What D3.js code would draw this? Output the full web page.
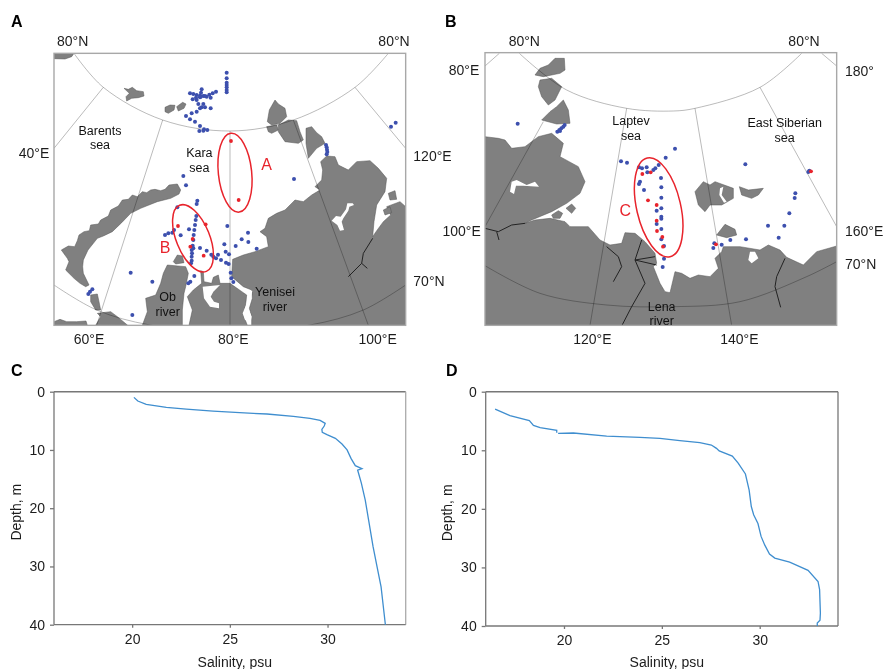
<!DOCTYPE html>
<html><head><meta charset="utf-8">
<script src="https://cdn.jsdelivr.net/npm/d3@7"></script>
<style>
html,body{margin:0;padding:0;background:#fff}
svg{display:block;filter:blur(0.4px)}
text{font-family:"Liberation Sans",Arial,sans-serif;fill:#1c1c1c}
</style></head><body>
<svg id="c" width="883" height="669"></svg>
<script>
// ---------- Salinity profiles ----------
const salinityC=[20.09,20.29,20.72,21.75,22.77,24.14,25.5,26.9,28.25,29.1,29.62,29.88,29.83,29.71,29.73,29.97,30.4,30.74,31.0,31.2,31.42,31.76,31.54,31.73,31.93,32.1,32.33,32.53,32.74,32.96];
const depthC=[0.97,1.6,2.17,2.69,2.98,3.32,3.6,3.83,4.23,4.58,4.92,5.44,5.9,6.47,6.98,7.38,8.0,8.98,10.0,11.45,12.7,13.2,13.45,15.7,18.6,22,26.6,30,33.5,40];
const salinityD=[16.48,17.24,18.23,18.44,18.78,19.63,19.63,null,19.7,20.48,22.18,23.88,24.9,25.92,26.94,27.53,27.79,27.93,28.6,28.9,29.27,29.46,29.57,29.69,29.91,30.07,30.26,30.5,30.77,31.53,32.47,32.98,33.06,33.1,33.08,32.94,32.94];
const depthD=[2.96,4.1,4.95,5.75,6.14,6.6,7.0,null,7.1,7.05,7.57,7.8,7.96,8.36,8.7,9.1,9.67,10.1,11,12.2,14.05,16.8,19.6,21,22.5,24.7,26.2,27.7,28.4,29.1,30.5,32.4,33.8,37.8,39,39.5,40];
const salinityTicks=[20,25,30];
const depthTicks=[0,10,20,30,40];

// ---------- Map A (map units) ----------
const landA=[
[[162,160],[222,160],[215,170],[195,177],[162,176]],
[[372,265],[385,268],[397,262],[410,272],[430,275],[432,288],[415,293],[395,295],[380,303],[378,290],[388,280]],
[[495,322],[510,315],[525,316],[522,330],[505,340],[495,335]],
[[530,320],[548,307],[558,312],[552,325],[535,333]],
[[825,300],[835,312],[855,325],[860,350],[840,370],[815,375],[802,365],[808,330]],
[[800,380],[830,375],[835,390],[815,400],[805,395]],
[[835,375],[865,360],[890,362],[900,395],[910,420],[895,430],[855,425],[835,395]],
[[918,385],[935,380],[950,398],[965,410],[975,430],[950,445],[925,475],[918,430]],
[[542,570],[532,552],[507,555],[495,568],[482,572],[465,568],[452,570],[440,578],[427,575],[412,590],[397,585],[385,598],[367,600],[355,618],[332,630],[325,648],[302,660],[295,672],[272,675],[268,692],[252,695],[237,705],[232,722],[224,740],[205,738],[184,750],[202,775],[207,785],[197,810],[222,835],[240,850],[257,860],[267,855],[250,820],[248,800],[250,780],[264,750],[292,715],[310,708],[337,695],[365,668],[392,640],[422,625],[472,605],[512,595],[537,582]],
[[272,885],[292,882],[297,905],[302,930],[287,930],[272,905]],
[[162,965],[180,958],[200,965],[230,965],[258,963],[262,976],[162,976]],
[[292,940],[332,935],[352,950],[382,975],[287,976],[302,950]],
[[520,785],[532,765],[547,768],[552,788],[527,792]],
[[502,795],[557,800],[565,820],[557,860],[552,880],[547,930],[547,976],[427,976],[442,935],[437,895],[467,885],[482,850],[490,820]],
[[567,976],[577,930],[562,890],[580,870],[605,850],[602,812],[610,815],[612,845],[635,850],[640,832],[655,825],[660,850],[690,850],[730,878],[740,885],[737,915],[730,945],[742,976]],
[[698,778],[730,765],[765,755],[805,740],[800,710],[780,695],[795,685],[805,655],[830,640],[855,630],[870,615],[885,600],[910,605],[935,585],[960,570],[945,560],[965,540],[968,510],[962,485],[980,468],[1005,470],[1015,495],[1045,510],[1070,485],[1110,482],[1135,505],[1160,535],[1155,575],[1130,615],[1122,665],[1118,710],[1128,695],[1150,665],[1172,645],[1160,620],[1200,605],[1217,620],[1217,976],[755,976],[755,950],[748,925],[757,895],[755,870],[730,860],[695,830]],
[[1165,580],[1185,572],[1190,598],[1170,600]],
[[1150,630],[1170,620],[1175,638],[1155,645]]
];
const waterA=[
[[608,860],[660,855],[640,875],[632,890],[642,905],[657,910],[657,925],[630,920],[612,895]],
[[995,662],[1008,648],[1022,650],[1038,628],[1042,610],[1058,610],[1062,615],[1048,620],[1045,632],[1030,655],[1025,665],[1032,690],[1020,692],[1012,675]],
[[742,872],[757,872],[752,900],[745,925],[755,950],[752,965],[735,960],[728,940],[738,915],[745,890]]
];
const riversA=[
[[1118,715],[1090,760],[1085,790],[1045,830]],
[[1085,790],[1102,805]]
];
const graticuleA=[
[[222,160],[310,262],[488,360],[690,393],[880,360],[1065,262],[1165,160]],
[[162,855],[290,930],[450,975],[690,995],[930,975],[1090,930],[1217,855]],
[[162,445],[310,262]],[[488,360],[290,976]],[[690,393],[690,976]],[[880,360],[1105,976]],[[1065,262],[1217,445]]
];
const stationsA=[[680,218],[680,235],[680,248],[680,255],[680,262],[680,270],[680,277],[570,280],[580,282],[590,285],[600,287],[610,288],[620,290],[632,293],[648,275],[638,280],[628,284],[615,288],[600,292],[588,293],[578,298],[605,268],[603,278],[602,290],[590,300],[595,312],[605,322],[615,322],[632,325],[610,312],[600,325],[590,335],[575,340],[558,348],[570,358],[585,365],[600,378],[612,388],[598,393],[622,390],[610,392],[1173,380],[1187,368],[978,435],[980,442],[981,449],[982,456],[980,463],[882,537],[550,528],[558,556],[592,602],[590,612],[589,648],[587,660],[585,675],[583,690],[581,705],[580,720],[578,737],[575,750],[576,760],[575,770],[575,782],[573,790],[580,745],[532,622],[567,688],[682,678],[542,706],[495,705],[505,700],[517,698],[522,690],[744,698],[745,726],[725,718],[707,738],[673,733],[677,755],[687,763],[770,746],[600,744],[620,752],[634,764],[654,764],[640,770],[648,775],[663,780],[678,788],[686,792],[692,818],[694,835],[700,846],[583,828],[571,845],[565,850],[392,818],[457,845],[397,945],[265,882],[270,875],[277,868]];
const sampledA=[[693,423],[716,600],[534,678],[617,673],[578,717],[571,740],[611,767]];
const regionsA=[[705,518,50,119,-6],[579,715,50,107,-22]];

// ---------- Map B (map units) ----------
const landB=[
[[345,175],[373,175],[375,210],[360,220],[310,230],[285,225],[300,205],[325,195]],
[[300,240],[335,235],[365,260],[345,300],[325,315],[305,290],[295,260]],
[[370,300],[385,330],[390,370],[350,372],[305,360],[330,335],[350,320]],
[[135,410],[175,415],[195,420],[215,445],[255,440],[295,410],[335,400],[370,430],[360,470],[415,500],[435,545],[420,580],[380,610],[335,635],[275,660],[255,670],[285,660],[330,655],[375,665],[390,680],[445,680],[480,720],[510,735],[545,730],[555,698],[585,700],[615,725],[645,760],[650,790],[640,800],[660,850],[675,875],[690,878],[705,815],[725,820],[750,835],[775,825],[810,830],[835,805],[825,775],[845,755],[850,740],[900,740],[960,750],[985,735],[1020,750],[1040,772],[1090,795],[1130,755],[1190,738],[1190,976],[135,976]],
[[378,625],[395,612],[407,625],[395,640]],
[[335,645],[355,632],[368,640],[360,655],[340,655]],
[[765,575],[790,545],[810,555],[825,545],[880,565],[880,595],[845,615],[810,615],[795,635],[775,615]],
[[898,560],[925,570],[970,565],[955,585],[935,595],[905,585]],
[[830,705],[855,673],[885,688],[890,705],[860,713]]
];
const waterB=[
[[215,545],[230,540],[260,555],[285,545],[297,560],[250,557],[228,557],[222,582],[210,575]],
[[840,565],[850,560],[845,585],[860,605],[852,608],[838,585]],
[[930,755],[945,755],[955,775],[935,790],[925,780]]
];
const riversB=[
[[135,685],[175,695],[215,675],[255,670]],
[[170,695],[177,720]],
[[500,740],[535,770],[545,800],[520,845]],
[[605,720],[585,780],[645,770]],[[585,780],[650,795]],[[585,780],[615,850],[575,920],[545,978]],
[[1035,775],[1010,830],[1005,860],[1022,922]]
];
const graticuleB=[
[[238,160],[380,270],[560,325],[700,333],[765,325],[960,262],[1085,160]],
[[135,797],[300,880],[500,915],[700,920],[900,905],[1100,830],[1190,785]],
[[135,198],[178,160]],[[1145,160],[1190,198]],[[310,365],[135,680]],[[560,325],[450,976]],[[765,325],[875,976]],[[960,262],[1190,680]]
];
const stationsB=[[233,371],[352,395],[358,390],[364,385],[370,380],[374,375],[360,393],[543,484],[561,488],[597,502],[620,502],[606,505],[622,517],[640,510],[646,505],[656,495],[677,473],[705,446],[600,545],[597,552],[612,570],[663,534],[664,562],[664,593],[664,625],[650,632],[664,650],[664,656],[650,672],[664,687],[664,718],[672,738],[672,776],[668,801],[916,493],[1108,512],[1105,516],[1066,580],[1064,594],[1048,640],[984,677],[1033,677],[1016,713],[918,718],[871,720],[845,734],[823,730],[820,744]];
const sampledB=[[607,522],[632,517],[624,601],[650,615],[650,662],[651,693],[667,711],[669,740],[1113,514],[828,733]];
const regionsB=[[656,622,66,152,-13]];

// ---------- Text ----------
const gridLabelsA=[["80°N",218,123,"middle"],["80°N",1182,123,"middle"],["40°E",102,458,"middle"],["120°E",1240,468,"start"],["70°N",1240,842,"start"],["60°E",267,1018,"middle"],["80°E",700,1018,"middle"],["100°E",1133,1018,"middle"]];
const gridLabelsB=[["80°N",253,123,"middle"],["80°N",1092,123,"middle"],["80°E",72,210,"middle"],["180°",1215,212,"start"],["100°E",65,692,"middle"],["160°E",1215,692,"start"],["70°N",1215,792,"start"],["120°E",457,1018,"middle"],["140°E",898,1018,"middle"]];
const seaLabelsA=[[["Barents","sea"],300,395],[["Kara","sea"],598,462],[["Ob","river"],503,895],[["Yenisei","river"],825,880]];
const seaLabelsB=[[["Laptev","sea"],573,367],[["East Siberian","sea"],1034,373],[["Lena","river"],665,923]];
const regionLabelsA=[["A",800,492],["B",495,742]];
const regionLabelsB=[["C",556,632]];
const panelLetters=[["A",11,27],["B",445,27],["C",11,376],["D",446,376]];

const svg=d3.select("#c");
const GREY="#808080";

function drawMap(o){
  const x=d3.scaleLinear().domain([0,3]).range([o.left,o.left+1]);
  const y=d3.scaleLinear().domain([0,3]).range([0,1]);
  const id="clip"+o.name;
  const [x0,x1]=o.fx,[y0,y1]=o.fy;
  svg.append("clipPath").attr("id",id).append("rect")
    .attr("x",x(x0)).attr("y",y(y0)).attr("width",x(x1)-x(x0)).attr("height",y(y1)-y(y0));
  const g=svg.append("g").attr("clip-path",`url(#${id})`);
  const closed=d3.line().x(d=>x(d[0])).y(d=>y(d[1])).curve(d3.curveLinearClosed);
  const open=d3.line().x(d=>x(d[0])).y(d=>y(d[1]));
  const smooth=d3.line().x(d=>x(d[0])).y(d=>y(d[1])).curve(d3.curveCatmullRom);
  g.selectAll("path.land").data(o.land).join("path").attr("class","land").attr("d",closed).attr("fill",GREY).attr("stroke","#555").attr("stroke-width",.5);
  g.selectAll("path.water").data(o.water).join("path").attr("class","water").attr("d",closed).attr("fill","#fff");
  g.selectAll("path.river").data(o.rivers).join("path").attr("class","river").attr("d",open).attr("fill","none").attr("stroke","#222").attr("stroke-width",1);
  g.selectAll("path.grat").data(o.grat).join("path").attr("class","grat").attr("d",d=>d.length>2?smooth(d):open(d)).attr("fill","none").attr("stroke","#000").attr("stroke-opacity",.27).attr("stroke-width",1);
  g.selectAll("circle.st").data(o.stations).join("circle").attr("class","st").attr("cx",d=>x(d[0])).attr("cy",d=>y(d[1])).attr("r",2).attr("fill","#3d50ae");
  g.selectAll("circle.sm").data(o.sampled).join("circle").attr("class","sm").attr("cx",d=>x(d[0])).attr("cy",d=>y(d[1])).attr("r",1.9).attr("fill","#e8242c");
  g.selectAll("ellipse").data(o.regions).join("ellipse")
    .attr("transform",d=>`translate(${x(d[0])},${y(d[1])}) rotate(${d[4]})`)
    .attr("rx",d=>x(d[2])-x(0)).attr("ry",d=>y(d[3])-y(0)).attr("fill","none").attr("stroke","#e8242c").attr("stroke-width",1.5);
  svg.append("rect").attr("fill","none").attr("x",x(x0)).attr("y",y(y0)).attr("width",x(x1)-x(x0)).attr("height",y(y1)-y(y0)).attr("stroke","#a8a8a8").attr("stroke-width",1.4);
  svg.append("g").selectAll("text").data(o.gridLabels).join("text")
    .attr("x",d=>x(d[1])).attr("y",d=>y(d[2])).attr("text-anchor",d=>d[3]).attr("dy","0.36em").attr("font-size",14).text(d=>d[0]);
  const lines=o.seaLabels.flatMap(d=>d[0].map((t,i)=>({t,i,px:d[1],py:d[2]})));
  svg.append("g").selectAll("text").data(lines).join("text")
    .attr("text-anchor","middle").attr("font-size",12.5).style("fill","#111")
    .attr("x",d=>x(d.px)).attr("y",d=>y(d.py)-1.4+d.i*14.5).attr("dy","0.36em").text(d=>d.t);
  svg.append("g").selectAll("text").data(o.regionLabels).join("text")
    .attr("x",d=>x(d[1])).attr("y",d=>y(d[2])).attr("text-anchor","middle").attr("dy","0.36em").attr("font-size",16).style("fill","#e8242c").text(d=>d[0]);
}
drawMap({name:"A",left:0,fx:[162,1217],fy:[160,976],land:landA,water:waterA,rivers:riversA,grat:graticuleA,stations:stationsA,sampled:sampledA,regions:regionsA,gridLabels:gridLabelsA,seaLabels:seaLabelsA,regionLabels:regionLabelsA});
drawMap({name:"B",left:440,fx:[135,1190],fy:[158,976],land:landB,water:waterB,rivers:riversB,grat:graticuleB,stations:stationsB,sampled:sampledB,regions:regionsB,gridLabels:gridLabelsB,seaLabels:seaLabelsB,regionLabels:regionLabelsB});

function drawProfile(o){
  const x=d3.scaleLinear().domain([16,34]).range(o.xr);
  const y=d3.scaleLinear().domain([0,40]).range(o.yr);
  const g=svg.append("g");
  g.append("line").attr("x1",o.xr[0]).attr("x2",o.xr[1]).attr("y1",o.yr[0]).attr("y2",o.yr[0]).attr("stroke","#777").attr("stroke-width",1.5);
  g.append("line").attr("x1",o.xr[1]).attr("x2",o.xr[1]).attr("y1",o.yr[0]).attr("y2",o.yr[1]).attr("stroke",o.rightC).attr("stroke-width",1.3);
  const ax=g.append("g").attr("transform",`translate(0,${o.yr[1]})`).call(d3.axisBottom(x).tickValues(salinityTicks).tickSize(3).tickPadding(6));
  const ay=g.append("g").attr("transform",`translate(${o.xr[0]},0)`).call(d3.axisLeft(y).tickValues(depthTicks).tickSize(4).tickPadding(5));
  [ax,ay].forEach(a=>{a.selectAll("path,line").attr("stroke","#777").attr("stroke-width",1.3);a.selectAll("text").attr("font-size",14).attr("font-family",'"Liberation Sans",Arial,sans-serif').attr("fill","#222");});
  ax.selectAll("path").attr("d",`M${o.xr[0]},0H${o.xr[1]}`);
  ay.selectAll("path").attr("d",`M0,${o.yr[0]}V${o.yr[1]}`);
  const pts=o.sal.map((s,i)=>[s,o.dep[i]]);
  g.append("path").datum(pts).attr("d",d3.line().defined(d=>d[0]!==null).x(d=>x(d[0])).y(d=>y(d[1]))).attr("fill","none").attr("stroke","#3f8ecf").attr("stroke-width",1.3);
  g.append("text").attr("x",(o.xr[0]+o.xr[1])/2+5).attr("y",667).attr("text-anchor","middle").attr("font-size",14).text("Salinity, psu");
  g.append("text").attr("transform",`translate(${o.yl},${(o.yr[0]+o.yr[1])/2+4}) rotate(-90)`).attr("text-anchor","middle").attr("dy","0.36em").attr("font-size",14).text("Depth, m");
}
drawProfile({xr:[54,405.7],yr:[391.7,624.7],sal:salinityC,dep:depthC,yl:16,rightC:"#aaa"});
drawProfile({xr:[485.7,838],yr:[391.7,626],sal:salinityD,dep:depthD,yl:447,rightC:"#777"});

svg.append("g").selectAll("text").data(panelLetters).join("text")
  .attr("x",d=>d[1]).attr("y",d=>d[2]).attr("font-size",16).attr("font-weight","bold").style("fill","#000").text(d=>d[0]);
</script></body></html>
